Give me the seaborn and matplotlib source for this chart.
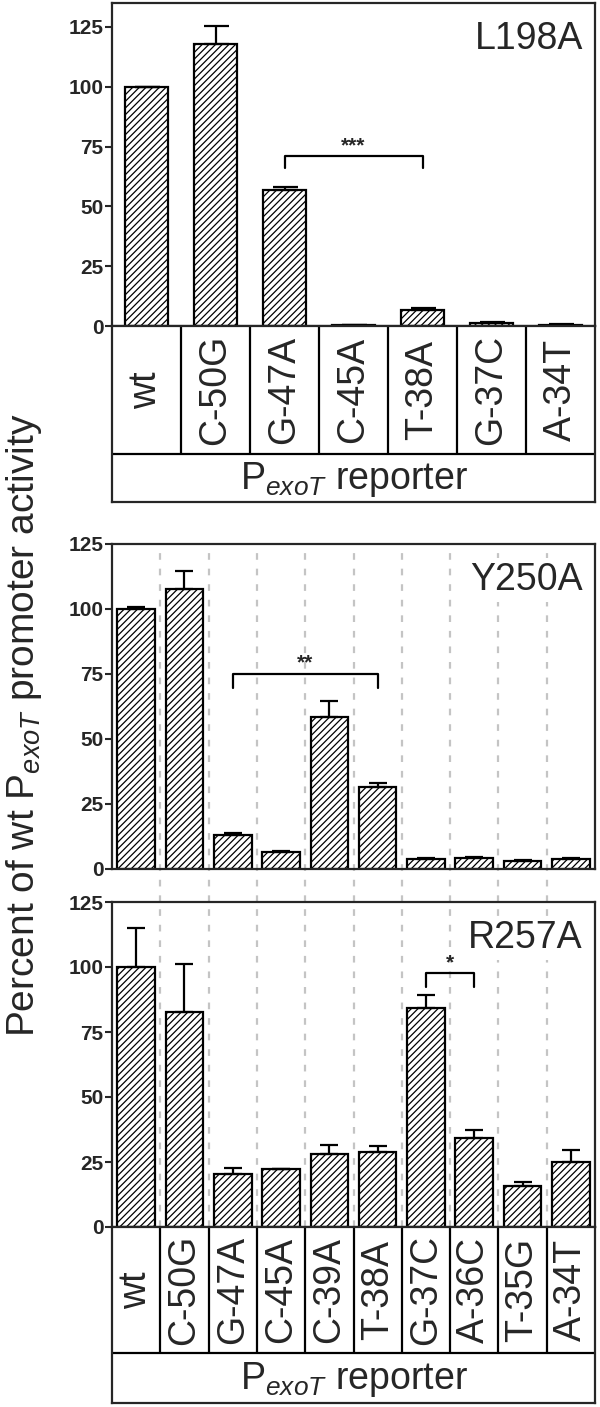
import numpy as np
import matplotlib
matplotlib.use('Agg')
import matplotlib.pyplot as plt
import seaborn as sns

# data
top_labels = ['wt', 'C-50G', 'G-47A', 'C-45A', 'T-38A', 'G-37C', 'A-34T']
top_vals = [100, 118, 57, 0.3, 6.7, 1.4, 0.6]
top_err = [0, 7.5, 1.0, 0.1, 1.0, 0.3, 0.2]

mut_labels = ['wt', 'C-50G', 'G-47A', 'C-45A', 'C-39A', 'T-38A', 'G-37C', 'A-36C', 'T-35G', 'A-34T']
y250_vals = [100, 107.5, 13, 6.6, 58.5, 31.5, 3.8, 4.2, 3.2, 3.8]
y250_err = [0.6, 7, 1.0, 0.3, 6, 1.7, 0.5, 0.3, 0.3, 0.3]
r257_vals = [100, 82.8, 20.3, 22.2, 28, 28.8, 84.2, 34.2, 15.6, 25.1]
r257_err = [15, 18.2, 2.3, 0.3, 3.7, 2.5, 5.2, 3.3, 1.6, 4.7]

yticks = [0, 25, 50, 75, 100, 125]

sns.set_style('ticks')
plt.rcParams['font.family'] = ['Liberation Sans', 'DejaVu Sans']
plt.rcParams['mathtext.fontset'] = 'custom'
plt.rcParams['mathtext.rm'] = 'Liberation Sans'
plt.rcParams['mathtext.it'] = 'Liberation Sans:italic'
plt.rcParams['hatch.linewidth'] = 0.9

fig = plt.figure(figsize=(6, 14.07), dpi=100)
L, W = 112 / 600, 483 / 600
H = 1407


def fy(px):
    return 1 - px / H


def panel(top_px, bot_px, labels, vals, err, width, capsize, ymax, name):
    ax = fig.add_axes([L, fy(bot_px), W, (bot_px - top_px) / H])
    sns.barplot(x=labels, y=vals, ax=ax, color='white', saturation=1,
                edgecolor='black', linewidth=1.6, hatch='/////', width=width,
                errorbar=None, zorder=2)
    n = len(labels)
    ax.errorbar(range(n), vals, yerr=[np.zeros(n), err], fmt='none', ecolor='black',
                elinewidth=1.6, capsize=capsize, capthick=1.6, zorder=3)
    ax.set_xlim(-0.5, n - 0.5)
    ax.set_ylim(0, ymax)
    ax.set_yticks(yticks)
    ax.set_yticklabels([str(t) for t in yticks], fontsize=15, fontweight='bold')
    ax.tick_params(axis='y', length=5, width=1.5, pad=1)
    ax.tick_params(axis='x', length=0, labelbottom=False)
    ax.set_xlabel('')
    ax.set_ylabel('')
    for s in ax.spines.values():
        s.set_visible(True)
        s.set_linewidth(1.6)
    ax.text(0.975, 0.945, name, transform=ax.transAxes, ha='right', va='top',
            fontsize=27, zorder=4,
            bbox=dict(facecolor='white', edgecolor='none', pad=3))
    return ax


def bracket(ax, x1, x2, y, drop, stars):
    ax.plot([x1, x1, x2, x2], [y - drop, y, y, y - drop], color='black', lw=1.6, zorder=4)
    ax.text((x1 + x2) / 2, y + 0.5, stars, ha='center', va='bottom', fontsize=15,
            fontweight='bold', zorder=4)


def label_table(bot_px, labels, sep):
    tx = fig.add_axes([L, fy(bot_px), W, 176 / H])
    n = len(labels)
    tx.set_xlim(-0.5, n - 0.5)
    tx.set_ylim(0, 1)
    tx.set_xticks([])
    tx.set_yticks([])
    for s in tx.spines.values():
        s.set_linewidth(1.6)
    tx.axhline(sep, color='black', lw=1.6)
    tx.vlines(np.arange(n - 1) + 0.5, sep, 1, color='black', lw=1.6)
    for i, lab in enumerate(labels):
        tx.text(i, (sep + 1) / 2, lab, rotation=90, ha='center', va='center', fontsize=27)
    tx.text((n - 1) / 2, sep / 2 - 0.01, r'P$_{exoT}$ reporter', ha='center', va='center',
            fontsize=27)
    return tx


# top panel (L198A)
ax1 = panel(3, 326, top_labels, top_vals, top_err, 0.63, 9, 135, 'L198A')
bracket(ax1, 2, 4, 71, 5, '***')
label_table(502, top_labels, 48 / 176)

# middle panel (Y250A)
ax2 = panel(544, 869, mut_labels, y250_vals, y250_err, 0.78, 6.5, 125, 'Y250A')
for xb in np.arange(len(mut_labels) - 1) + 0.5:
    ax2.axvline(xb, ymin=-33 / 325, ymax=1, color='#c4c4c4', ls=(0, (3, 4)), lw=1.6,
                zorder=0, clip_on=False)
bracket(ax2, 2, 5, 75, 5.5, '**')

# bottom panel (R257A)
ax3 = panel(902, 1227, mut_labels, r257_vals, r257_err, 0.78, 6.5, 125, 'R257A')
for xb in np.arange(len(mut_labels) - 1) + 0.5:
    ax3.axvline(xb, color='#c4c4c4', ls=(0, (3, 4)), lw=1.6, zorder=0)
bracket(ax3, 6, 7, 97.6, 5.2, '*')
label_table(1403, mut_labels, 50 / 176)

fig.text(0.04, fy(725), r'Percent of wt P$_{exoT}$ promoter activity', rotation=90,
         ha='center', va='center', fontsize=28)

fig.savefig('out.png', dpi=100)
